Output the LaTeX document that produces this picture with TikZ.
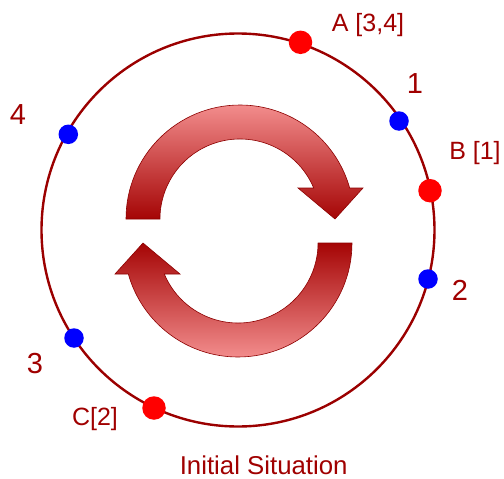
\documentclass[tikz,border=0pt]{standalone}
\usepackage{fontspec}
\setmainfont{Liberation Sans}
\definecolor{dred}{RGB}{160,0,0}
\definecolor{ringred}{RGB}{155,0,0}
\definecolor{arrlight}{RGB}{242,140,140}
\definecolor{arrdark}{RGB}{165,5,5}
\definecolor{arrline}{RGB}{140,0,0}
\begin{document}
\begin{tikzpicture}[x=1pt,y=-1pt,
  lbl/.style={text=dred, anchor=base, inner sep=0pt, font=\fontsize{25}{30}\selectfont},
  num/.style={text=dred, anchor=base, inner sep=0pt, font=\fontsize{29}{34}\selectfont},
  reddot/.style={circle, fill=red, minimum size=23.5pt, inner sep=0pt},
  bluedot/.style={circle, fill=blue, minimum size=19.5pt, inner sep=0pt},
  ring/.style={circle, draw=ringred, line width=2.4pt, minimum size=393pt, inner sep=0pt},
  arrowshape/.style={draw=arrline, line width=0.6pt}]
\useasboundingbox (0,0) rectangle (504,479);
% ring
\node[ring] (ringnode) at (238,230) {};
% top curved arrow
\path[arrowshape, top color=arrlight, bottom color=arrdark]
  (126,219) arc[start angle=180, end angle=344.22, radius=114]
  -- (363,188) -- (335,219) -- (298,188) -- (313.7,188)
  arc[start angle=337.2, end angle=180, radius=80] -- cycle;
% bottom curved arrow
\path[arrowshape, top color=arrdark, bottom color=arrlight]
  (352,243) arc[start angle=0, end angle=164.22, radius=114]
  -- (115,274) -- (143,243) -- (180,274) -- (164.3,274)
  arc[start angle=157.2, end angle=0, radius=80] -- cycle;
% dots
\node[reddot] (A) at (300.5,42.3) {};
\node[reddot] (B) at (430,190.7) {};
\node[reddot] (C) at (154,408) {};
\node[bluedot] (p1) at (399,121) {};
\node[bluedot] (p2) at (428,279) {};
\node[bluedot] (p3) at (74,338) {};
\node[bluedot] (p4) at (68.3,134.3) {};
% labels
\node[lbl] (la) at (368,31) {A [3,4]};
\node[lbl] (lb) at (475,159.3) {B [1]};
\node[lbl] (lc) at (95,425.5) {C[2]};
\node[num] (n1) at (415,93.3) {1};
\node[num] (n2) at (460,300) {2};
\node[num] (n3) at (35,373.3) {3};
\node[num] (n4) at (18,124.3) {4};
\node[lbl, font=\fontsize{25.8}{30}\selectfont] (title) at (263.7,474.8) {Initial Situation};
\end{tikzpicture}
\end{document}
